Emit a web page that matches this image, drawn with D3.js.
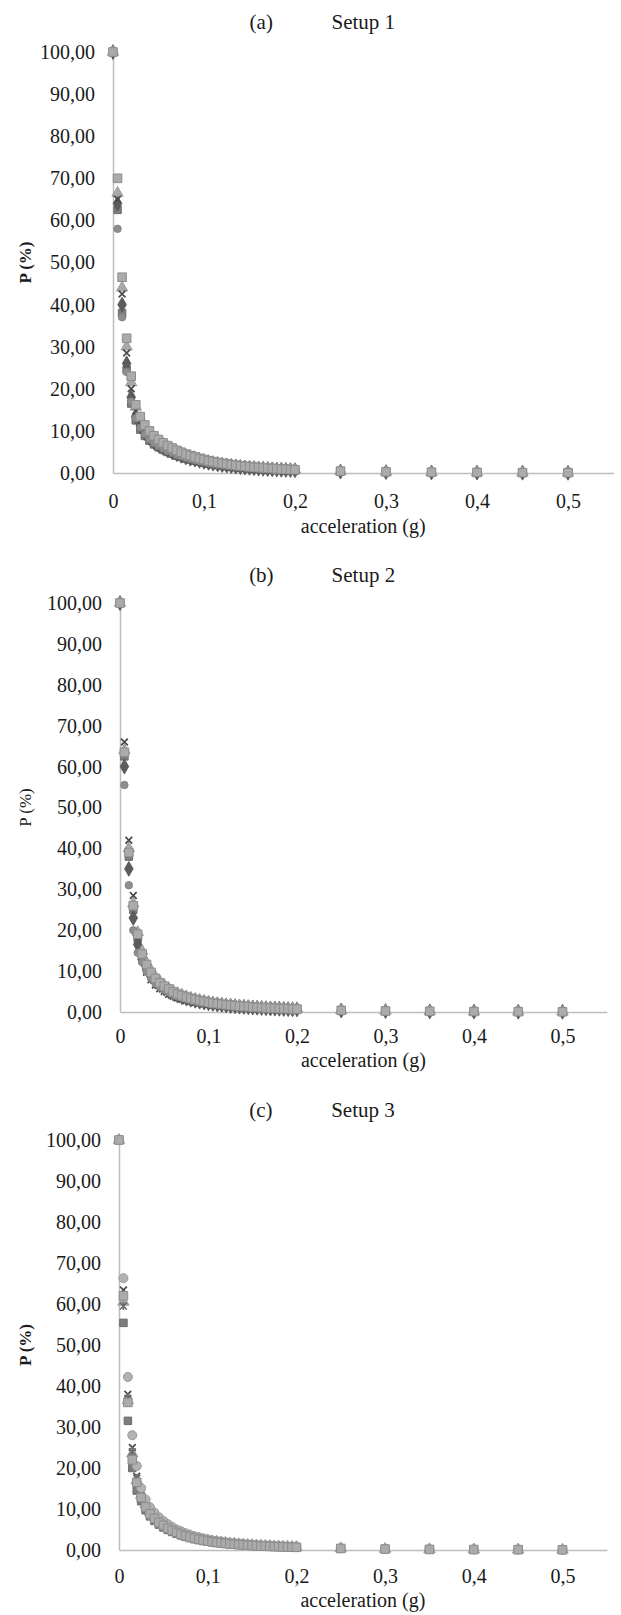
<!DOCTYPE html>
<html>
<head>
<meta charset="utf-8">
<script src="https://cdn.jsdelivr.net/npm/d3@7"></script>
<style>
  body { margin: 0; background: #ffffff; }
  svg { display: block; }
  text { font-family: "Liberation Serif", "Times New Roman", serif; fill: #1a1a1a; }
</style>
</head>
<body>
<svg id="chart" width="621" height="1615"></svg>
<script>
// Acceleration levels (g) shared by every series
const accel = [0, 0.005, 0.01, 0.015, 0.02, 0.025, 0.03, 0.035, 0.04, 0.045, 0.05, 0.055, 0.06, 0.065, 0.07, 0.075,
  0.08, 0.085, 0.09, 0.095, 0.1, 0.105, 0.11, 0.115, 0.12, 0.125, 0.13, 0.135, 0.14, 0.145, 0.15, 0.155, 0.16,
  0.165, 0.17, 0.175, 0.18, 0.185, 0.19, 0.195, 0.2, 0.25, 0.3, 0.35, 0.4, 0.45, 0.5];

// Axis ticks and labels
const xTicks = [0, 0.1, 0.2, 0.3, 0.4, 0.5];
const xTickLabels = ["0", "0,1", "0,2", "0,3", "0,4", "0,5"];
const yTicks = [0, 10, 20, 30, 40, 50, 60, 70, 80, 90, 100];
const yTickLabels = ["0,00", "10,00", "20,00", "30,00", "40,00", "50,00", "60,00", "70,00", "80,00", "90,00", "100,00"];
const panelLetters = ["(a)", "(b)", "(c)"];
const setupNames = ["Setup 1", "Setup 2", "Setup 3"];

// P (%) — Setup 1
const s1DarkSquare = [100, 62.5, 38.0, 24.5, 16.5, 12.5, 10.3, 8.8, 7.7, 6.8, 6.1, 5.5, 5.0, 4.6, 4.1, 3.8, 3.4, 3.2, 2.9, 2.7, 2.45, 2.24, 2.06, 1.89, 1.76, 1.63, 1.51, 1.41, 1.31, 1.22, 1.14, 1.06, 0.99, 0.93, 0.87, 0.82, 0.77, 0.72, 0.68, 0.64, 0.60, 0.34, 0.2, 0.13, 0.09, 0.06, 0.04];
const s1Diamond = [100, 64.0, 40.0, 26.0, 18.0, 13.5, 11.2, 9.5, 8.3, 7.3, 6.6, 6.0, 5.4, 4.9, 4.5, 4.1, 3.7, 3.4, 3.2, 2.9, 2.65, 2.42, 2.23, 2.05, 1.91, 1.77, 1.64, 1.53, 1.41, 1.32, 1.23, 1.14, 1.07, 1.0, 0.94, 0.88, 0.83, 0.78, 0.73, 0.69, 0.65, 0.36, 0.22, 0.14, 0.1, 0.07, 0.05];
const s1Triangle = [100, 66.5, 44.0, 30.0, 21.5, 15.7, 13.0, 11.0, 9.6, 8.5, 7.7, 6.9, 6.3, 5.7, 5.2, 4.75, 4.3, 4.0, 3.67, 3.35, 3.08, 2.81, 2.59, 2.38, 2.21, 2.05, 1.9, 1.77, 1.64, 1.53, 1.43, 1.33, 1.24, 1.17, 1.09, 1.03, 0.96, 0.91, 0.85, 0.8, 0.76, 0.42, 0.26, 0.17, 0.12, 0.08, 0.06];
const s1Cross = [100, 65.0, 42.5, 28.5, 20.0, 14.8, 12.2, 10.1, 9.0, 7.8, 7.2, 6.3, 5.9, 5.2, 4.9, 4.3, 4.1, 3.6, 3.45, 3.05, 2.9, 2.55, 2.45, 2.15, 2.1, 1.86, 1.8, 1.6, 1.55, 1.39, 1.35, 1.2, 1.17, 1.05, 1.03, 0.93, 0.91, 0.82, 0.8, 0.72, 0.71, 0.4, 0.24, 0.16, 0.11, 0.08, 0.05];
const s1Circle = [100, 58.0, 37.0, 24.0, 17.0, 13.0, 10.8, 9.2, 8.0, 7.1, 6.4, 5.8, 5.2, 4.8, 4.3, 3.96, 3.6, 3.33, 3.06, 2.79, 2.57, 2.34, 2.16, 1.98, 1.85, 1.71, 1.58, 1.48, 1.37, 1.28, 1.19, 1.11, 1.04, 0.97, 0.91, 0.86, 0.8, 0.76, 0.71, 0.67, 0.63, 0.35, 0.21, 0.14, 0.1, 0.07, 0.05];
const s1LightSquare = [100, 70.0, 46.5, 32.0, 23.0, 16.2, 13.4, 11.4, 10.0, 8.85, 7.95, 7.17, 6.5, 5.94, 5.38, 4.93, 4.48, 4.14, 3.81, 3.47, 3.19, 2.91, 2.69, 2.46, 2.3, 2.13, 1.97, 1.84, 1.7, 1.59, 1.48, 1.38, 1.29, 1.21, 1.13, 1.06, 1.0, 0.94, 0.88, 0.83, 0.78, 0.45, 0.28, 0.19, 0.13, 0.09, 0.07];

// P (%) — Setup 2
const s2DarkSquare = [100, 62.5, 38.0, 25.0, 18.0, 13.7, 11.1, 9.3, 7.9, 6.9, 6.0, 5.35, 4.75, 4.25, 3.8, 3.5, 3.15, 2.92, 2.66, 2.47, 2.25, 2.1, 1.93, 1.81, 1.68, 1.58, 1.47, 1.39, 1.3, 1.23, 1.15, 1.09, 1.02, 0.98, 0.92, 0.88, 0.83, 0.8, 0.75, 0.72, 0.68, 0.38, 0.24, 0.16, 0.11, 0.08, 0.06];
const s2Diamond = [100, 60.0, 35.0, 23.0, 16.5, 12.8, 10.5, 8.7, 7.4, 6.5, 5.7, 5.0, 4.5, 4.0, 3.6, 3.28, 2.99, 2.76, 2.52, 2.33, 2.14, 1.98, 1.83, 1.71, 1.6, 1.49, 1.4, 1.31, 1.24, 1.16, 1.09, 1.03, 0.97, 0.92, 0.87, 0.83, 0.79, 0.75, 0.71, 0.67, 0.65, 0.36, 0.22, 0.15, 0.1, 0.07, 0.05];
const s2Triangle = [100, 64.0, 40.0, 26.5, 19.5, 14.9, 12.1, 10.1, 8.6, 7.5, 6.6, 5.8, 5.2, 4.6, 4.2, 3.8, 3.47, 3.19, 2.92, 2.7, 2.48, 2.29, 2.12, 1.98, 1.85, 1.73, 1.62, 1.52, 1.43, 1.34, 1.27, 1.19, 1.12, 1.07, 1.01, 0.96, 0.91, 0.87, 0.83, 0.78, 0.75, 0.42, 0.26, 0.17, 0.12, 0.09, 0.06];
const s2Cross = [100, 66.0, 42.0, 28.5, 18.5, 12.5, 9.7, 7.9, 6.6, 5.7, 5.0, 4.35, 3.85, 3.44, 3.12, 2.83, 2.58, 2.38, 2.17, 2.01, 1.85, 1.71, 1.58, 1.48, 1.38, 1.29, 1.21, 1.13, 1.07, 1.0, 0.94, 0.89, 0.84, 0.8, 0.75, 0.71, 0.68, 0.65, 0.62, 0.58, 0.56, 0.31, 0.19, 0.12, 0.09, 0.06, 0.04];
const s2Circle = [100, 55.5, 31.0, 20.0, 14.5, 12.2, 9.9, 8.3, 7.0, 6.1, 5.4, 4.8, 4.2, 3.8, 3.4, 3.1, 2.84, 2.61, 2.39, 2.2, 2.03, 1.87, 1.74, 1.62, 1.51, 1.41, 1.32, 1.24, 1.17, 1.1, 1.04, 0.97, 0.92, 0.87, 0.83, 0.78, 0.75, 0.71, 0.68, 0.64, 0.61, 0.34, 0.21, 0.14, 0.1, 0.07, 0.05];
const s2LightSquare = [100, 63.5, 39.0, 26.0, 19.0, 14.2, 11.6, 9.7, 8.2, 7.1, 6.3, 5.6, 4.9, 4.4, 4.0, 3.62, 3.31, 3.05, 2.78, 2.57, 2.36, 2.18, 2.03, 1.89, 1.76, 1.65, 1.54, 1.45, 1.37, 1.28, 1.21, 1.13, 1.07, 1.02, 0.97, 0.91, 0.87, 0.83, 0.79, 0.75, 0.71, 0.4, 0.25, 0.17, 0.12, 0.08, 0.06];

// P (%) — Setup 3
const s3DarkSquare = [100, 55.4, 31.5, 20.0, 14.5, 11.9, 9.7, 8.2, 7.1, 6.2, 5.5, 4.9, 4.4, 3.96, 3.56, 3.21, 2.9, 2.64, 2.42, 2.2, 2.02, 1.87, 1.72, 1.6, 1.49, 1.39, 1.3, 1.22, 1.14, 1.08, 1.02, 0.96, 0.91, 0.86, 0.82, 0.77, 0.74, 0.7, 0.67, 0.63, 0.61, 0.34, 0.21, 0.14, 0.1, 0.07, 0.05];
const s3Cross = [100, 63.4, 38.0, 25.0, 18.0, 13.8, 11.2, 9.5, 8.3, 7.2, 6.4, 5.7, 5.1, 4.6, 4.13, 3.72, 3.37, 3.06, 2.81, 2.55, 2.35, 2.16, 2.0, 1.86, 1.72, 1.61, 1.51, 1.42, 1.33, 1.25, 1.18, 1.11, 1.05, 1.0, 0.95, 0.9, 0.86, 0.82, 0.78, 0.73, 0.7, 0.39, 0.24, 0.16, 0.11, 0.08, 0.06];
const s3Triangle = [100, 60.5, 36.5, 23.5, 17.0, 13.4, 11.1, 9.2, 8.2, 7.0, 6.4, 5.5, 5.1, 4.4, 4.1, 3.6, 3.35, 2.95, 2.8, 2.45, 2.33, 2.08, 1.99, 1.79, 1.71, 1.55, 1.5, 1.37, 1.32, 1.21, 1.17, 1.07, 1.04, 0.96, 0.94, 0.86, 0.85, 0.78, 0.77, 0.71, 0.7, 0.38, 0.23, 0.15, 0.11, 0.08, 0.05];
const s3Star = [100, 59.5, 37.0, 24.0, 17.5, 14.6, 11.9, 10.0, 8.7, 7.7, 6.8, 6.0, 5.4, 4.86, 4.37, 3.94, 3.56, 3.24, 2.97, 2.7, 2.48, 2.29, 2.12, 1.97, 1.83, 1.71, 1.6, 1.5, 1.4, 1.33, 1.25, 1.18, 1.11, 1.06, 1.0, 0.95, 0.91, 0.86, 0.82, 0.78, 0.75, 0.41, 0.25, 0.17, 0.12, 0.08, 0.06];
const s3Circle = [100, 66.3, 42.2, 28.0, 20.5, 15.1, 12.3, 10.4, 9.1, 8.0, 7.1, 6.3, 5.6, 5.0, 4.54, 4.09, 3.7, 3.36, 3.08, 2.8, 2.58, 2.37, 2.2, 2.04, 1.89, 1.77, 1.66, 1.56, 1.46, 1.38, 1.3, 1.22, 1.15, 1.1, 1.04, 0.99, 0.94, 0.9, 0.85, 0.81, 0.77, 0.43, 0.27, 0.18, 0.13, 0.09, 0.06];
const s3LightSquare = [100, 62.0, 36.0, 22.0, 16.5, 12.8, 10.5, 8.8, 7.7, 6.7, 6.0, 5.3, 4.75, 4.28, 3.85, 3.47, 3.14, 2.85, 2.61, 2.38, 2.19, 2.01, 1.86, 1.73, 1.61, 1.5, 1.41, 1.32, 1.24, 1.17, 1.1, 1.04, 0.98, 0.93, 0.88, 0.84, 0.8, 0.76, 0.72, 0.68, 0.66, 0.37, 0.23, 0.15, 0.11, 0.08, 0.05];

// Stroke-only marker shapes
const symbolX = {
  draw(ctx, size) {
    const r = Math.sqrt(size) / 2;
    ctx.moveTo(-r, -r); ctx.lineTo(r, r);
    ctx.moveTo(r, -r); ctx.lineTo(-r, r);
  }
};
const symbolAsterisk = {
  draw(ctx, size) {
    const r = Math.sqrt(size) / 2;
    ctx.moveTo(-r, -r); ctx.lineTo(r, r);
    ctx.moveTo(r, -r); ctx.lineTo(-r, r);
    ctx.moveTo(0, -r * 1.2); ctx.lineTo(0, r * 1.2);
  }
};

// Marker styles
const styles = {
  darkSquare:  { type: d3.symbolSquare,   size: 56, fill: "#7d7d7d", stroke: "#6c6c6c", sw: 1 },
  diamond:     { type: d3.symbolDiamond,  size: 64, fill: "#5c5c5c", stroke: "#505050", sw: 0.8 },
  triangle:    { type: d3.symbolTriangle, size: 56, fill: "#a9a9a9", stroke: "#8f8f8f", sw: 0.8 },
  cross:       { type: symbolX,           size: 46, fill: "none",    stroke: "#4a4a4a", sw: 1.7 },
  star:        { type: symbolAsterisk,    size: 46, fill: "none",    stroke: "#6a6a6a", sw: 1.6 },
  circle:      { type: d3.symbolCircle,   size: 44, fill: "#8e8e8e", stroke: "#7c7c7c", sw: 0.8 },
  lightCircle: { type: d3.symbolCircle,   size: 64, fill: "#b3b3b3", stroke: "#9a9a9a", sw: 1 },
  lightSquare: { type: d3.symbolSquare,   size: 74, fill: "#ababab", stroke: "#8d8d8d", sw: 1 }
};

// Panel layout
const panels = [
  { left: 113, perTenth: 91,   top: 52,   bottom: 473,  titleY: 29,   xPad: 21, accelY: 533,  boldY: true,
    series: [["darkSquare", s1DarkSquare], ["diamond", s1Diamond], ["triangle", s1Triangle],
             ["cross", s1Cross], ["circle", s1Circle], ["lightSquare", s1LightSquare]] },
  { left: 120, perTenth: 88.5, top: 603,  bottom: 1012, titleY: 582,  xPad: 17, accelY: 1067, boldY: false,
    series: [["darkSquare", s2DarkSquare], ["diamond", s2Diamond], ["triangle", s2Triangle],
             ["cross", s2Cross], ["circle", s2Circle], ["lightSquare", s2LightSquare]] },
  { left: 119, perTenth: 88.7, top: 1140, bottom: 1550, titleY: 1117, xPad: 19, accelY: 1607, boldY: true,
    series: [["darkSquare", s3DarkSquare], ["cross", s3Cross], ["triangle", s3Triangle],
             ["star", s3Star], ["lightCircle", s3Circle], ["lightSquare", s3LightSquare]] }
];

const svg = d3.select("#chart");
const axisColor = "#bdbdbd";

panels.forEach((p, pi) => {
  const right = p.left + p.perTenth * 5.5;
  const x = d3.scaleLinear().domain([0, 0.55]).range([p.left, right]);
  const y = d3.scaleLinear().domain([0, 100]).range([p.bottom, p.top]);
  const g = svg.append("g");

  // x axis along P = 0
  const gx = g.append("g")
    .attr("transform", `translate(0,${y(0)})`)
    .call(d3.axisBottom(x).tickValues(xTicks)
      .tickFormat((d, i) => xTickLabels[i])
      .tickSize(0).tickSizeOuter(0).tickPadding(p.xPad));
  gx.select(".domain").attr("stroke", axisColor).attr("stroke-width", 1.5);
  gx.selectAll("text").attr("font-size", 20).attr("fill", "#1a1a1a")
    .style("font-family", "'Liberation Serif', serif");

  // y axis at acceleration = 0
  const gy = g.append("g")
    .attr("transform", `translate(${x(0)},0)`)
    .call(d3.axisLeft(y).tickValues(yTicks)
      .tickFormat((d, i) => yTickLabels[i])
      .tickSize(0).tickSizeOuter(0).tickPadding(18));
  gy.select(".domain").attr("stroke", axisColor).attr("stroke-width", 1.5);
  gy.selectAll("text").attr("font-size", 20).attr("fill", "#1a1a1a")
    .style("font-family", "'Liberation Serif', serif");

  // markers
  p.series.forEach(([styleKey, values]) => {
    const st = styles[styleKey];
    const sym = d3.symbol().type(st.type).size(st.size);
    g.append("g").selectAll("path")
      .data(values.map((v, i) => [accel[i], v]))
      .join("path")
      .attr("d", sym)
      .attr("transform", d => `translate(${x(d[0])},${y(d[1])})`)
      .attr("fill", st.fill)
      .attr("stroke", st.stroke)
      .attr("stroke-width", st.sw);
  });

  // titles
  const cx = (p.left + right) / 2;
  g.append("text").attr("x", cx - 102).attr("y", p.titleY)
    .attr("text-anchor", "middle").attr("font-size", 21).text(panelLetters[pi]);
  g.append("text").attr("x", cx).attr("y", p.titleY)
    .attr("text-anchor", "middle").attr("font-size", 21).text(setupNames[pi]);

  // axis titles
  g.append("text").attr("x", cx).attr("y", p.accelY)
    .attr("text-anchor", "middle").attr("font-size", 20).text("acceleration (g)");
  g.append("text")
    .attr("transform", `translate(31,${(p.top + p.bottom) / 2}) rotate(-90)`)
    .attr("text-anchor", "middle").attr("font-size", 17)
    .attr("font-weight", p.boldY ? "bold" : "normal")
    .text("P (%)");
});
</script>
</body>
</html>
